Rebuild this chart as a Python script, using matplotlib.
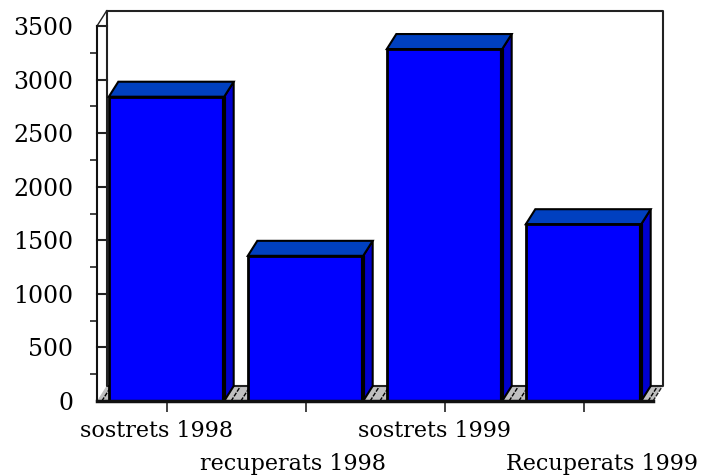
import matplotlib
matplotlib.use("Agg")
import matplotlib.pyplot as plt

categories = ['sostrets 1998', 'recuperats 1998', 'sostrets 1999', 'Recuperats 1999']
values = [2840, 1355, 3285, 1650]
y_ticks = [0, 500, 1000, 1500, 2000, 2500, 3000, 3500]
y_minor = [250, 750, 1250, 1750, 2250, 2750, 3250]

# label offsets from their tick, in pixels (x, y)
label_dx = [-10, -13, -10, 19]
label_dy = [-30, -63, -30, -63]

W, H = 711, 475
fig = plt.figure(figsize=(W / 100, H / 100), dpi=100, facecolor='white')
ax = fig.add_axes([97 / W, 1 - 401 / H, (653 - 97) / W, (401 - 26) / H])
ax.set_xlim(-0.5, 3.5)
ax.set_ylim(0, 3500)
ax.patch.set_visible(False)

# depth of the fake 3d, in data units
dx = 9.5 / 139
dy = 15 * 3500 / 375
barWidth = 0.83
grey = '#c0c0c0'

x0, x1 = -0.5, 3.5
# floor
ax.fill([x0, x1, x1 + dx, x0 + dx], [0, 0, dy, dy], fc=grey, ec='none', zorder=1, clip_on=False)
for k in [0, 1, 2, 3, 4]:
    for off in [-0.035, 0.035]:
        xs = k - 0.5 + off
        if xs < x0 or xs > x1:
            continue
        ax.plot([xs, xs + dx], [0, dy], color='black', lw=1, ls=(0, (3, 1)), zorder=1.5, clip_on=False)
# walls
ax.plot([x0 + dx, x1 + dx, x1 + dx, x0 + dx, x0 + dx], [3500 + dy] * 2 + [dy] * 2 + [3500 + dy],
        color='#222222', lw=1.5, zorder=2, clip_on=False)
ax.plot([x0, x0 + dx], [3500, 3500 + dy], color='#222222', lw=1, zorder=2, clip_on=False)
ax.plot([x1, x1 + dx], [0, dy], color='#222222', lw=1, ls=(0, (3, 1)), zorder=2, clip_on=False)
for t in y_ticks[1:]:
    ax.plot([x0, x0 + dx], [t, t], color='#222222', lw=1.5, zorder=2, clip_on=False)

# bars
for i, v in enumerate(values):
    left = i - barWidth / 2
    right = i + barWidth / 2
    ax.fill([right, right + dx, right + dx, right], [0, dy, v + dy, v],
            fc='#0000d0', ec='black', lw=1.5, zorder=3, clip_on=False)
    ax.fill([left, right, right + dx, left + dx], [v, v, v + dy, v + dy],
            fc='#0040c0', ec='black', lw=1.5, zorder=3, clip_on=False)
ax.bar(range(4), values, width=barWidth, color='#0000ff', edgecolor='black', lw=2, zorder=4)
# heavier right edge of each front face
for i, v in enumerate(values):
    ax.plot([i + barWidth / 2] * 2, [0, v], color='black', lw=3, zorder=4.5, solid_capstyle='butt')

for s in ['top', 'right']:
    ax.spines[s].set_visible(False)
for s in ['left', 'bottom']:
    ax.spines[s].set_color('#111111')
ax.spines['left'].set_linewidth(1.5)
ax.spines['bottom'].set_linewidth(2.5)
ax.spines['bottom'].set_zorder(5)

ax.set_yticks(y_ticks)
ax.set_yticks(y_minor, minor=True)
ax.tick_params(axis='y', which='major', length=0, pad=17, labelsize=17, labelfontfamily='DejaVu Serif')
ax.tick_params(axis='y', which='minor', length=5, width=1.2, color='#222222')
ax.set_xticks(range(4))
ax.set_xticklabels([])
ax.tick_params(axis='x', length=8, width=1.2, color='#222222')

for i, name in enumerate(categories):
    ax.annotate(name, xy=(i, 0), xycoords=('data', 'axes fraction'),
                xytext=(label_dx[i] * 0.72, label_dy[i] * 0.72), textcoords='offset points',
                ha='center', va='center', fontsize=16, family='DejaVu Serif', annotation_clip=False)

fig.savefig('out.png', dpi=100)
